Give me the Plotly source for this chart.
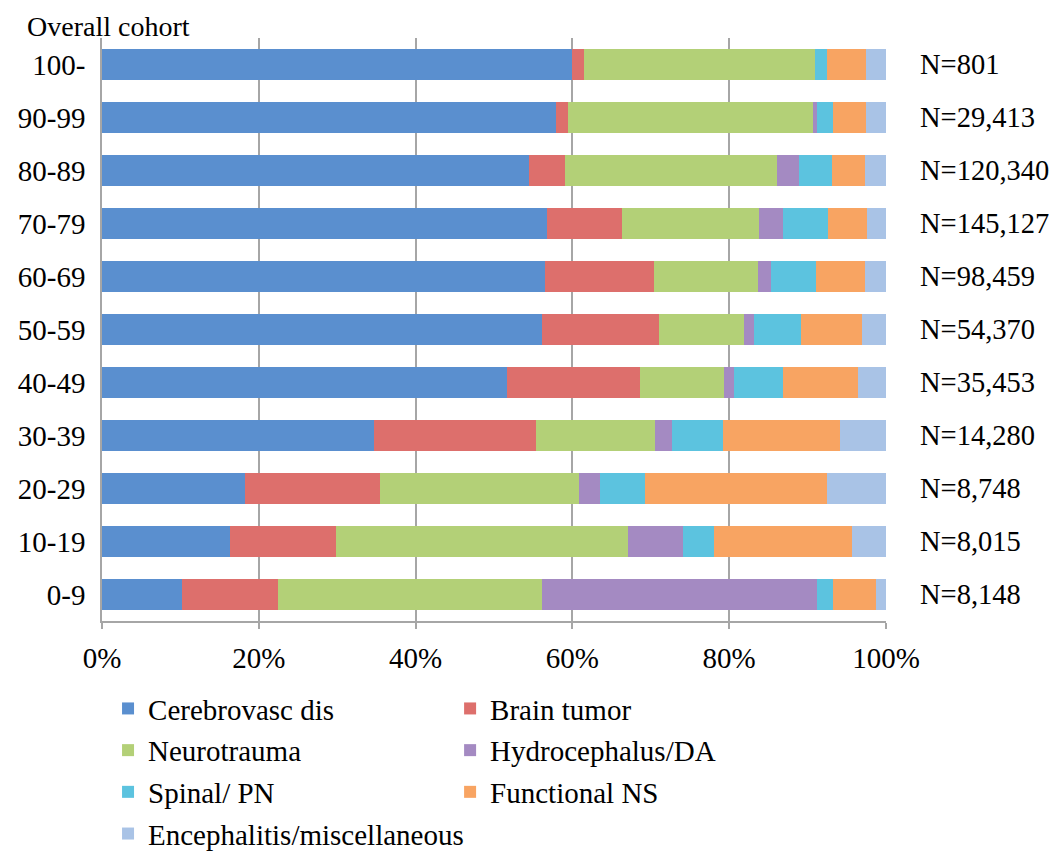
import plotly.graph_objects as go

ages = ["0-9", "10-19", "20-29", "30-39", "40-49", "50-59", "60-69", "70-79", "80-89", "90-99", "100-"]
n_labels = ["N=8,148", "N=8,015", "N=8,748", "N=14,280", "N=35,453", "N=54,370",
            "N=98,459", "N=145,127", "N=120,340", "N=29,413", "N=801"]
x_ticks = [0, 20, 40, 60, 80, 100]
x_tick_labels = ["0%", "20%", "40%", "60%", "80%", "100%"]

cerebrovasc = [10.2, 16.3, 18.3, 34.7, 51.7, 56.1, 56.5, 56.7, 54.5, 57.9, 59.9]
brain_tumor = [12.3, 13.5, 17.2, 20.6, 16.9, 15.0, 13.9, 9.6, 4.6, 1.5, 1.6]
neurotrauma = [33.6, 37.3, 25.3, 15.2, 10.7, 10.8, 13.3, 17.5, 27.0, 31.3, 29.4]
hydrocephalus = [35.1, 7.0, 2.7, 2.2, 1.3, 1.3, 1.6, 3.1, 2.8, 0.5, 0.0]
spinal = [2.1, 4.0, 5.7, 6.5, 6.3, 5.9, 5.8, 5.7, 4.2, 2.1, 1.6]
functional = [5.4, 17.5, 23.3, 14.9, 9.5, 7.9, 6.2, 5.0, 4.2, 4.2, 5.0]
misc = [1.3, 4.4, 7.5, 5.9, 3.6, 3.0, 2.7, 2.4, 2.7, 2.5, 2.5]

series = [
    ("Cerebrovasc dis", cerebrovasc, "#5A8FCF", "legend"),
    ("Brain tumor", brain_tumor, "#DD6F6C", "legend2"),
    ("Neurotrauma", neurotrauma, "#B3D077", "legend"),
    ("Hydrocephalus/DA", hydrocephalus, "#A48AC2", "legend2"),
    ("Spinal/ PN", spinal, "#5CC3DF", "legend"),
    ("Functional NS", functional, "#F8A462", "legend2"),
    ("Encephalitis/miscellaneous", misc, "#A9C3E6", "legend"),
]

FONT = "Liberation Serif, Times New Roman, serif"
FS = 29

fig = go.Figure()
for name, vals, color, leg in series:
    fig.add_trace(go.Bar(
        y=ages, x=vals, name=name, orientation="h",
        marker=dict(color=color, line=dict(width=0)),
        legend=leg, legendgroup=name,
        hovertemplate="%{y}: %{x:.1f}%<extra>" + name + "</extra>",
    ))

for age, lab in zip(ages, n_labels):
    fig.add_annotation(x=1.041, xref="paper", y=age, yref="y", text=lab,
                       showarrow=False, xanchor="left", yanchor="middle",
                       font=dict(family=FONT, size=28.5, color="black"))

fig.add_annotation(x=-0.097, xref="paper", y=1.0197, yref="paper", text="Overall cohort",
                   showarrow=False, xanchor="left", yanchor="middle", borderpad=0,
                   font=dict(family=FONT, size=28, color="black"))

legend_common = dict(
    orientation="v", traceorder="grouped", tracegroupgap=1,
    font=dict(family=FONT, size=FS, color="black"),
    bgcolor="rgba(0,0,0,0)", itemclick=False, itemdoubleclick=False,
    xanchor="left", yanchor="top",
)

fig.update_layout(
    width=1049, height=900,
    barmode="stack", bargap=0.43,
    plot_bgcolor="white", paper_bgcolor="white",
    margin=dict(l=94, r=171, t=30, b=286.5),
    font=dict(family=FONT, size=FS, color="black"),
    xaxis=dict(range=[0, 100], tickvals=x_ticks, ticktext=x_tick_labels,
               showgrid=True, gridcolor="#A6A6A6", gridwidth=1.5, zeroline=False,
               showline=True, linecolor="#A6A6A6", linewidth=1.5,
               ticks="outside", ticklen=6, tickcolor="#A6A6A6", tickwidth=1.5,
               ticklabelstandoff=4, tickangle=0, automargin=False,
               tickfont=dict(family=FONT, size=FS, color="black"), fixedrange=True),
    yaxis=dict(categoryorder="array", categoryarray=ages, showgrid=False, zeroline=False,
               showline=True, linecolor="#A6A6A6", linewidth=1.5, ticks="",
               ticklabelstandoff=9, automargin=False,
               tickfont=dict(family=FONT, size=FS, color="black"), fixedrange=True),
    legend=dict(x=0.0077, y=-0.1065, **legend_common),
    legend2=dict(x=0.444, y=-0.1065, **legend_common),
    showlegend=True,
)

fig.write_html("out.html")
